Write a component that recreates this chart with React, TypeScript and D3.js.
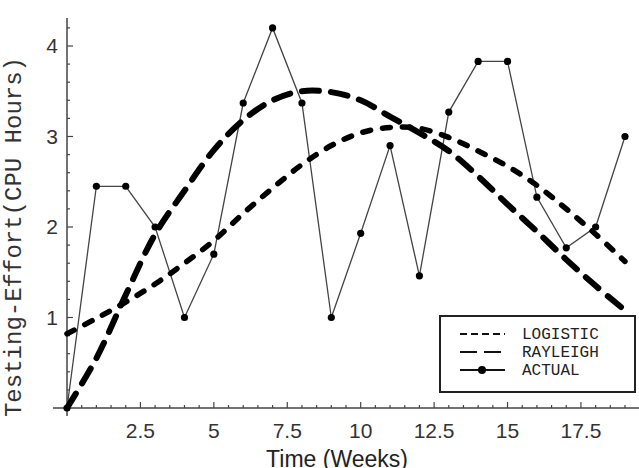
import * as d3 from "d3";
import { useEffect, useRef } from "react";

// Weekly testing effort (CPU hours)
const weeks = d3.range(0, 20);
const actual = [0, 2.45, 2.45, 2.0, 1.0, 1.7, 3.37, 4.2, 3.37, 1.0, 1.93, 2.9, 1.46, 3.27, 3.83, 3.83, 2.33, 1.77, 2.0, 3.0];
const logistic = [0.82, 0.99, 1.17, 1.37, 1.6, 1.85, 2.15, 2.43, 2.69, 2.9, 3.04, 3.1, 3.09, 2.99, 2.84, 2.67, 2.46, 2.2, 1.92, 1.62];
const rayleigh = [0, 0.55, 1.25, 1.92, 2.4, 2.85, 3.18, 3.4, 3.5, 3.49, 3.4, 3.22, 3.04, 2.84, 2.56, 2.25, 1.95, 1.64, 1.35, 1.08];

const xTicks = [2.5, 5, 7.5, 10, 12.5, 15, 17.5];
const yTicks = [1, 2, 3, 4];
const legendItems = ["LOGISTIC", "RAYLEIGH", "ACTUAL"];

export default function App() {
  const ref = useRef<SVGSVGElement>(null);

  useEffect(() => {
    const svg = d3.select(ref.current);
    svg.selectAll("*").remove();

    const width = 639;
    const height = 468;
    const mono = "'Courier New', 'Liberation Mono', monospace";
    const sans = "'Liberation Sans', Arial, sans-serif";
    const axisColor = "#444";

    const x = d3.scaleLinear().domain([0, 19]).range([67, 625]);
    const y = d3.scaleLinear().domain([0, 4]).range([408, 46]);

    svg.append("rect").attr("width", width).attr("height", height).attr("fill", "#fff");

    // Axes (Mathematica style, ticks drawn inward)
    const axes = svg.append("g").attr("stroke", axisColor).attr("stroke-width", 1.5);
    axes.append("line").attr("x1", 53).attr("x2", width).attr("y1", y(0)).attr("y2", y(0));
    axes.append("line").attr("x1", x(0)).attr("x2", x(0)).attr("y1", 18).attr("y2", 416);

    d3.range(0.5, 19.51, 0.5).forEach((t) => {
      const major = Math.abs(t % 2.5) < 1e-6;
      axes.append("line")
        .attr("x1", x(t)).attr("x2", x(t))
        .attr("y1", y(0)).attr("y2", y(0) - (major ? 6 : 3))
        .attr("stroke-width", 1.2);
    });
    d3.range(0.2, 4.31, 0.2).forEach((v) => {
      const major = Math.abs(v - Math.round(v)) < 1e-6;
      axes.append("line")
        .attr("x1", x(0)).attr("x2", x(0) + (major ? 6 : 3))
        .attr("y1", y(v)).attr("y2", y(v))
        .attr("stroke-width", 1.2);
    });

    svg.append("g")
      .selectAll("text")
      .data(xTicks)
      .join("text")
      .attr("x", (d) => x(d))
      .attr("y", 438)
      .attr("text-anchor", "middle")
      .attr("font-family", sans)
      .attr("font-size", 21)
      .attr("fill", "#333")
      .text((d) => String(d));

    svg.append("g")
      .selectAll("text")
      .data(yTicks)
      .join("text")
      .attr("x", 58)
      .attr("y", (d) => y(d) + 7)
      .attr("text-anchor", "end")
      .attr("font-family", sans)
      .attr("font-size", 21)
      .attr("fill", "#333")
      .text((d) => String(d));

    svg.append("text")
      .attr("x", 337)
      .attr("y", 467)
      .attr("text-anchor", "middle")
      .attr("font-family", sans)
      .attr("font-size", 23)
      .attr("fill", "#222")
      .text("Time (Weeks)");

    svg.append("text")
      .attr("transform", "translate(21,237) rotate(-90)")
      .attr("text-anchor", "middle")
      .attr("font-family", mono)
      .attr("font-size", 24)
      .attr("fill", "#333")
      .text("Testing-Effort(CPU Hours)");

    const line = d3.line<number>()
      .x((_, i) => x(weeks[i]))
      .y((d) => y(d));
    const smooth = d3.line<number>()
      .x((_, i) => x(weeks[i]))
      .y((d) => y(d))
      .curve(d3.curveCatmullRom);

    // Actual data: thin polyline with dots
    svg.append("path")
      .attr("d", line(actual))
      .attr("fill", "none")
      .attr("stroke", "#444")
      .attr("stroke-width", 1.3);

    svg.append("path")
      .attr("d", smooth(logistic))
      .attr("fill", "none")
      .attr("stroke", "#000")
      .attr("stroke-width", 5.5)
      .attr("stroke-linecap", "round")
      .attr("stroke-dasharray", "8 12");

    svg.append("path")
      .attr("d", smooth(rayleigh))
      .attr("fill", "none")
      .attr("stroke", "#000")
      .attr("stroke-width", 6)
      .attr("stroke-linecap", "round")
      .attr("stroke-dasharray", "17 12");

    svg.append("g")
      .selectAll("circle")
      .data(actual)
      .join("circle")
      .attr("cx", (_, i) => x(weeks[i]))
      .attr("cy", (d) => y(d))
      .attr("r", 3.6)
      .attr("fill", "#000");

    // Legend
    const legend = svg.append("g");
    legend.append("rect")
      .attr("x", 440).attr("y", 316)
      .attr("width", 195).attr("height", 76)
      .attr("fill", "#fff")
      .attr("stroke", "#222")
      .attr("stroke-width", 2);

    const rowY = [334, 352, 370];
    const dashes = ["7 4", "17 7", null];
    legendItems.forEach((label, i) => {
      legend.append("line")
        .attr("x1", 460).attr("x2", 505)
        .attr("y1", rowY[i]).attr("y2", rowY[i])
        .attr("stroke", "#111")
        .attr("stroke-width", 2)
        .attr("stroke-dasharray", dashes[i]);
      if (dashes[i] === null) {
        legend.append("circle").attr("cx", 482).attr("cy", rowY[i]).attr("r", 4).attr("fill", "#000");
      }
      legend.append("text")
        .attr("x", 522)
        .attr("y", rowY[i] + 5)
        .attr("font-family", mono)
        .attr("font-size", 16)
        .attr("fill", "#222")
        .text(label);
    });
  }, []);

  return (
    <svg
      ref={ref}
      width={639}
      height={468}
      style={{ position: "absolute", left: 0, top: 0 }}
    />
  );
}
